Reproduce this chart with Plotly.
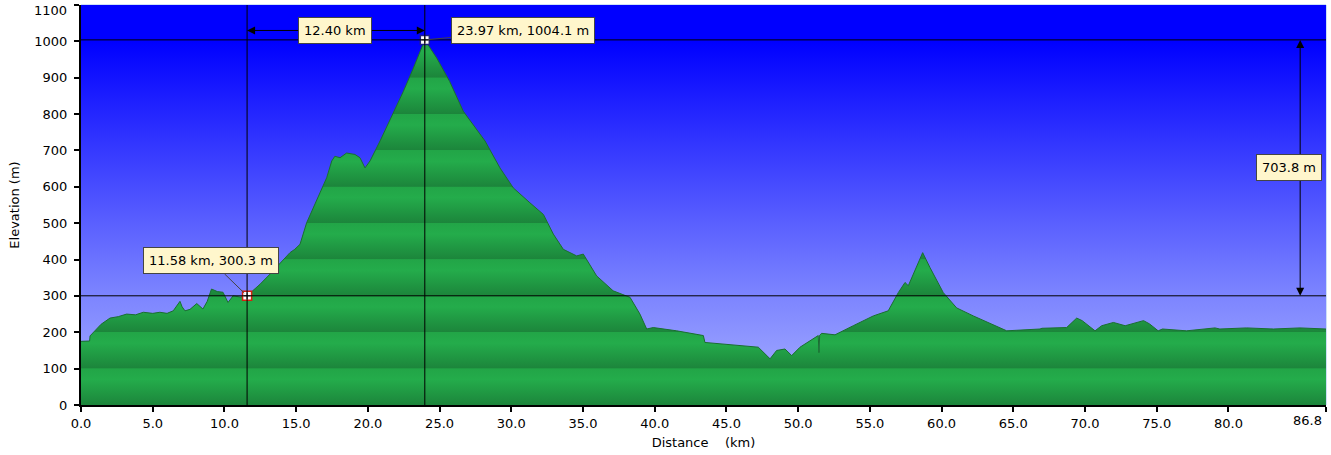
import plotly.graph_objects as go

# elevation profile
dist_km = [0.0, 0.6, 0.63, 0.86, 1.4, 2.02, 2.6, 3.18, 3.8, 4.35, 5.0, 5.5, 6.0, 6.43,
           6.9, 7.05, 7.25, 7.6, 8.07, 8.5, 8.8, 9.1, 9.5, 9.9, 10.25, 10.6, 11.1, 11.58,
           12.48, 13.18, 14.0, 14.57, 14.9, 15.27, 15.73, 16.43, 17.13, 17.48, 17.7, 18.06,
           18.52, 19.1, 19.45, 19.8, 20.15, 20.85, 21.78, 22.47, 23.17, 23.97, 24.8, 25.7,
           26.65, 27.4, 28.17, 29.21, 30.14, 31.3, 32.24, 32.93, 33.63, 34.56, 35.02, 35.95,
           37.1, 38.28, 38.97, 39.44, 39.9, 41.53, 43.39, 43.5, 44.78, 47.22, 48.04, 48.5,
           49.08, 49.55, 50.13, 51.4, 51.45, 51.5, 51.64, 52.57, 53.84, 55.24, 56.28, 56.98,
           57.45, 57.68, 58.68, 59.19, 60.12, 61.05, 62.21, 64.54, 66.86, 67.0, 68.72, 69.42,
           69.8, 70.7, 71.16, 71.98, 72.8, 74.08, 74.5, 75.1, 75.4, 77.08, 79.06, 79.4, 81.27,
           83.13, 84.99, 86.8]
elev_m = [175, 176, 190, 200, 222, 239, 243, 250, 248, 255, 252, 255, 252, 259,
          285, 270, 259, 263, 279, 264, 285, 319, 312, 310, 282, 300, 297, 300.3,
          332, 360, 395, 419, 428, 442, 501, 561, 625, 671, 684, 680,
          693, 689, 680, 652, 671, 726, 803, 862, 926, 1004.1, 954, 890,
          808, 767, 726, 652, 597, 556, 524, 470, 428, 410, 415, 355,
          314, 296, 250, 209, 213, 204, 191, 172, 168, 159, 127, 150,
          154, 136, 159, 191, 144, 192, 197, 193, 218, 245, 259, 309,
          337, 328, 419, 378, 309, 267, 245, 204, 209, 211, 213, 239,
          232, 204, 218, 227, 218, 232, 223, 204, 209, 204, 212, 209, 212,
          209, 212, 209]

x_ticks = [0, 5, 10, 15, 20, 25, 30, 35, 40, 45, 50, 55, 60, 65, 70, 75, 80, 86.8]
x_tick_text = ["0.0", "5.0", "10.0", "15.0", "20.0", "25.0", "30.0", "35.0", "40.0",
               "45.0", "50.0", "55.0", "60.0", "65.0", "70.0", "75.0", "80.0", ""]
x_end_label = "86.8"
y_ticks = [0, 100, 200, 300, 400, 500, 600, 700, 800, 900, 1000, 1100]
y_tick_text = ["0", "100", "200", "300", "400", "500", "600", "700", "800", "900", "1000", ""]
y_end_label = "1100"

cursor_a = (11.58, 300.3)
cursor_b = (23.97, 1004.1)
label_a = "11.58 km, 300.3 m"
label_b = "23.97 km, 1004.1 m"
label_dx = "12.40 km"
label_dy = "703.8 m"

X_MAX, Y_MAX = 86.8, 1100
FONT = "DejaVu Sans"
BOX = "#fff6cc"
EDGE = "#444444"

# banded green: each 100 m band bright near its top, dark near its bottom
green_scale = []
n_bands = 11
for k in range(n_bands):
    lo, hi = k / n_bands, (k + 1) / n_bands
    green_scale.append([lo + (0.0 if k == 0 else 0.001), "#1c853b"])
    green_scale.append([lo + 0.7 / n_bands, "#24ac4b"])
    green_scale.append([hi, "#22a547"])

fig = go.Figure()

# sky background
fig.add_trace(go.Scatter(
    x=[0, X_MAX, X_MAX, 0, 0], y=[0, 0, Y_MAX, Y_MAX, 0],
    mode="lines", line=dict(width=0), fill="toself",
    fillgradient=dict(type="vertical", start=0, stop=Y_MAX,
                      colorscale=[[0, "#aab2ff"], [0.3, "#7880ff"], [0.91, "#0000ff"], [1, "#0000ff"]]),
    hoverinfo="skip", showlegend=False))

# terrain
fig.add_trace(go.Scatter(
    x=dist_km, y=elev_m, mode="lines",
    line=dict(color="#1a6e30", width=1), fill="tozeroy",
    fillgradient=dict(type="vertical", start=0, stop=Y_MAX, colorscale=green_scale),
    showlegend=False))

# cursor lines
for xv in (cursor_a[0], cursor_b[0]):
    fig.add_shape(type="line", xref="x", yref="paper", x0=xv, x1=xv, y0=0, y1=1,
                  line=dict(color="black", width=1))
for yv in (cursor_a[1], cursor_b[1]):
    fig.add_shape(type="line", xref="paper", yref="y", x0=0, x1=1, y0=yv, y1=yv,
                  line=dict(color="black", width=1))

# cursor markers
fig.add_trace(go.Scatter(
    x=[cursor_a[0], cursor_b[0]], y=[cursor_a[1], cursor_b[1]], mode="markers",
    marker=dict(symbol="square", size=9, color="white",
                line=dict(color=["#d62010", "#20208a"], width=1.5)),
    showlegend=False, hoverinfo="skip"))
fig.add_trace(go.Scatter(
    x=[cursor_a[0], cursor_b[0]], y=[cursor_a[1], cursor_b[1]], mode="markers",
    marker=dict(symbol="cross-thin", size=5, line=dict(color="black", width=1)),
    showlegend=False, hoverinfo="skip"))

# distance arrow
arrow_y = 1030
mid_x = (cursor_a[0] + cursor_b[0]) / 2
for xe in (cursor_a[0], cursor_b[0]):
    fig.add_annotation(x=xe, y=arrow_y, ax=mid_x, ay=arrow_y, axref="x", ayref="y",
                       text="", showarrow=True, arrowhead=2, arrowsize=1.6,
                       arrowwidth=1, arrowcolor="black")
fig.add_annotation(x=mid_x - 0.1, y=arrow_y, text=label_dx, showarrow=False,
                   bgcolor=BOX, bordercolor=EDGE, borderwidth=1, borderpad=5)

# elevation arrow
arrow_x = 85.0
mid_y = (cursor_a[1] + cursor_b[1]) / 2
for ye in (cursor_a[1], cursor_b[1]):
    fig.add_annotation(x=arrow_x, y=ye, ax=arrow_x, ay=mid_y, axref="x", ayref="y",
                       text="", showarrow=True, arrowhead=2, arrowsize=1.6,
                       arrowwidth=1, arrowcolor="black")
fig.add_annotation(x=84.2, y=mid_y, text=label_dy, showarrow=False,
                   bgcolor=BOX, bordercolor=EDGE, borderwidth=1, borderpad=5)

# point callouts
fig.add_annotation(x=cursor_a[0], y=cursor_a[1], text=label_a, showarrow=True,
                   arrowhead=0, arrowwidth=1, arrowcolor=EDGE, ax=-36, ay=-35,
                   standoff=4, bgcolor=BOX, bordercolor=EDGE, borderwidth=1, borderpad=5)
fig.add_annotation(x=cursor_b[0], y=cursor_b[1], text=label_b, showarrow=True,
                   arrowhead=0, arrowwidth=1, arrowcolor=EDGE, ax=98, ay=-9,
                   standoff=4, bgcolor=BOX, bordercolor=EDGE, borderwidth=1, borderpad=5)

# end labels nudged inside the figure, as in the original
fig.add_annotation(x=X_MAX, y=0, xref="x", yref="paper", text=x_end_label,
                   showarrow=False, xanchor="right", yanchor="top", xshift=-2, yshift=-6,
                   font=dict(size=13))
fig.add_annotation(x=0, y=1, xref="paper", yref="paper", text=y_end_label,
                   showarrow=False, xanchor="right", yanchor="top", xshift=-12, yshift=4,
                   font=dict(size=13))

# thin light frame
fig.add_shape(type="rect", xref="paper", yref="paper", x0=0, x1=1, y0=0, y1=1,
              line=dict(color="#9cc0f0", width=1), layer="below")

fig.update_layout(
    width=1331, height=455,
    margin=dict(l=81, r=5, t=5, b=50),
    paper_bgcolor="white", plot_bgcolor="#0000ff",
    font=dict(family=FONT, size=13, color="black"),
    showlegend=False,
    xaxis=dict(range=[0, X_MAX + 0.001], tickvals=x_ticks, ticktext=x_tick_text,
               automargin=False,
               showgrid=False, zeroline=False, showline=True, linecolor="black",
               linewidth=2, ticks="outside", ticklen=5, tickwidth=2, tickcolor="black",
               tickfont=dict(size=13), layer="above traces",
               title=dict(text="Distance    (km)", font=dict(size=13), standoff=8)),
    yaxis=dict(range=[0, Y_MAX + 0.01], tickvals=y_ticks, ticktext=y_tick_text,
               automargin=False, ticklabelstandoff=4,
               showgrid=True, gridcolor="rgba(0,0,50,0.3)", gridwidth=1,
               zeroline=False, showline=True, linecolor="black",
               linewidth=2, ticks="outside", ticklen=5, tickwidth=2, tickcolor="black",
               tickfont=dict(size=13), layer="above traces",
               title=dict(text="Elevation (m)", font=dict(size=13), standoff=12)),
)

fig.write_html("out.html", config={"displayModeBar": False},
               post_script="document.body.style.margin='0';")
